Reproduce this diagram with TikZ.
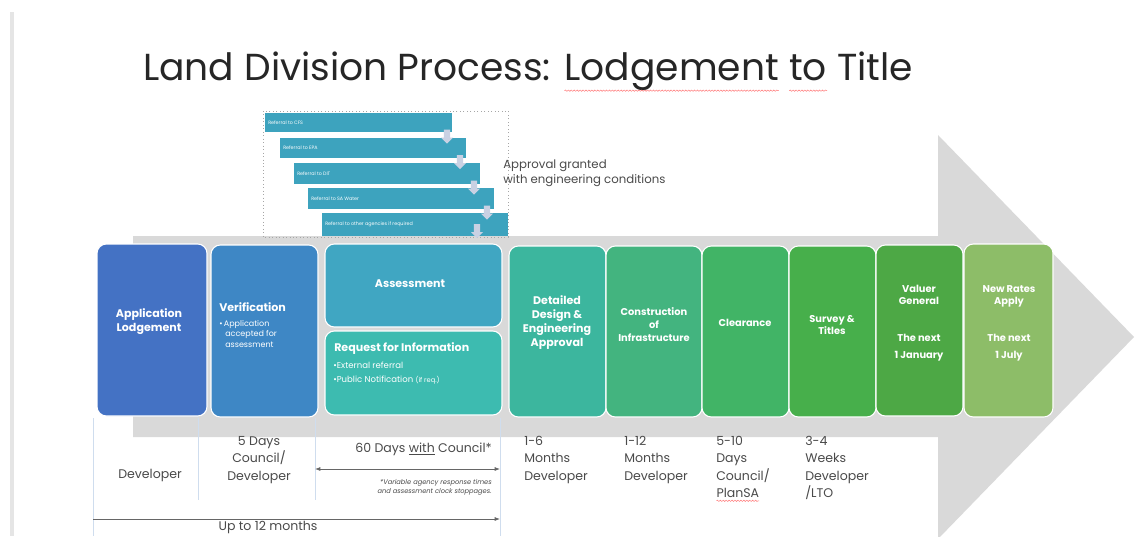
\documentclass[tikz,border=0pt]{standalone}
\usepackage{fontspec}
\setmainfont{Poppins}
\usetikzlibrary{fit,shapes.arrows,arrows.meta,decorations.pathmorphing}
% red wavy spell-check underline, drop below baseline as optional argument
\newcommand\spellwave[2][3pt]{\tikz[baseline=(sw.base),x=1cm,y=1cm]{\node[inner sep=0pt,outer sep=0pt](sw){#2};%
  \draw[red!55,line width=0.35pt,decorate,decoration={snake,amplitude=0.5pt,segment length=2.2pt}]([yshift=-#1]sw.base west)--([yshift=-#1]sw.base east);}}
\definecolor{arrowgrey}{HTML}{D9D9D9}
\definecolor{refteal}{HTML}{3DA3BE}
\definecolor{refarrow}{HTML}{C9D1E3}
\definecolor{cLodge}{HTML}{4472C4}
\definecolor{cVerif}{HTML}{3E87C5}
\definecolor{cAssess}{HTML}{40A6C2}
\definecolor{cRFI}{HTML}{3DBBB0}
\definecolor{cDesign}{HTML}{3CB69E}
\definecolor{cConstr}{HTML}{43B47F}
\definecolor{cClear}{HTML}{41B466}
\definecolor{cSurvey}{HTML}{47AF4B}
\definecolor{cValuer}{HTML}{4DA845}
\definecolor{cRates}{HTML}{8DBD68}
\definecolor{bodytext}{HTML}{4A4A4A}
\definecolor{sepblue}{HTML}{CFDDEE}
\tikzset{
  stage/.style={rounded corners=7pt, draw=white, line width=0.8pt, inner sep=0pt},
  stagetext/.style={text=white, font=\fontsize{8.3}{10.5}\selectfont\bfseries, align=center, inner sep=0pt},
  smalltext/.style={text=white, font=\fontsize{6}{7.9}\selectfont, align=left, inner sep=0pt},
  refbar/.style={fill=refteal, inner sep=0pt},
  reftext/.style={text=white, font=\fontsize{3.6}{4}\selectfont, inner sep=0pt, anchor=west},
  downarrow/.style={single arrow, shape border rotate=270, fill=refarrow, inner sep=1.6pt,
    minimum height=10.5pt, minimum width=9pt, single arrow head extend=1.6pt, single arrow tip angle=90},
  timetext/.style={text=bodytext, font=\fontsize{9.4}{13}\selectfont, inner sep=0pt},
  timeline/.style={draw=black!60, line width=0.6pt, -{Latex[length=4pt,width=3pt]}},
  sepline/.style={draw=sepblue, line width=0.6pt}
}
\begin{document}
\begin{tikzpicture}[x=0.75pt, y=-0.75pt]
\useasboundingbox (0,0) rectangle (1141,536);
\fill[white] (0,0) rectangle (1141,536);
% page margin rule
\fill[black!10] (10,12) rectangle (14,536);

% title
\node[anchor=base west, inner sep=0pt, text=black!85, font=\fontsize{28.2}{32}\selectfont] (title) at (143,80)
  {Land Division Process: \spellwave[8pt]{Lodgement} \spellwave[8pt]{to} Title};

% large process arrow
\fill[arrowgrey] (133,236) -- (938,236) -- (938,135) -- (1134,337) -- (938,539) -- (938,437) -- (133,437) -- cycle;

% referral cascade
\draw[black!35, dotted, line width=0.6pt] (263,111) rectangle (508,237);
\node[refbar, fit={(265,113) (452,132)}] (ref1) {};
\node[refbar, fit={(280,138) (466,158)}] (ref2) {};
\node[refbar, fit={(294,163) (480,184)}] (ref3) {};
\node[refbar, fit={(308,188) (494,209)}] (ref4) {};
\node[refbar, fit={(322,213) (508,236)}] (ref5) {};
\node[reftext] (ref1t) at (268,122.5) {Referral to CFS};
\node[reftext] (ref2t) at (283,148) {Referral to EPA};
\node[reftext] (ref3t) at (297,173.5) {Referral to DIT};
\node[reftext] (ref4t) at (311,198.5) {Referral to SA Water};
\node[reftext] (ref5t) at (325,224.5) {Referral to other agencies if required};
\node[downarrow] (dn1) at (447,135) {};
\node[downarrow] (dn2) at (460,160.5) {};
\node[downarrow] (dn3) at (474,186) {};
\node[downarrow] (dn4) at (487,211) {};
\node[downarrow] (dn5) at (477,229.5) {};
\node[anchor=north west, align=left, inner sep=0pt, text=bodytext, font=\fontsize{8.8}{11}\selectfont] (approval) at (503,160)
  {Approval granted\\with engineering conditions};

% process stages
\node[stage, fill=cLodge,  fit={(97,244) (207,416)}]  (lodge) {};
\node[stage, fill=cVerif,  fit={(211,245) (318,417)}] (verif) {};
\node[stage, fill=cAssess, fit={(325,244) (502,327)}] (assess) {};
\node[stage, fill=cRFI,    fit={(325,331) (502,415)}] (rfi) {};
\node[stage, fill=cDesign, fit={(509,246) (606,417)}] (design) {};
\node[stage, fill=cConstr, fit={(606,246) (702,417)}] (constr) {};
\node[stage, fill=cClear,  fit={(702,246) (789,417)}] (clear) {};
\node[stage, fill=cSurvey, fit={(789,246) (876,417)}] (survey) {};
\node[stage, fill=cValuer, fit={(876,245) (963,416)}] (valuer) {};
\node[stage, fill=cRates,  fit={(964,244) (1053,417)}] (rates) {};

\node[stagetext] (lodgeT) at (149,322) {Application\\Lodgement};
\node[stagetext, anchor=west] (verifT) at (219,307) {Verification};
\node[smalltext, anchor=north west] (verifB) at (219,320) {•\,Application\\\hspace*{4.5pt}accepted for\\\hspace*{4.5pt}assessment};
\node[stagetext] (assessT) at (410,284) {Assessment};
\node[stagetext, anchor=west] (rfiT) at (334,349) {Request for Information};
\node[smalltext, anchor=north west, font=\fontsize{6.4}{10.5}\selectfont] (rfiB) at (333,362)
  {•External referral\\•Public Notification {\fontsize{5}{6}\selectfont (if req.)}};
\node[stagetext] (designT) at (557,323) {Detailed\\Design \&\\Engineering\\Approval};
\node[stagetext, font=\fontsize{7.4}{9.8}\selectfont\bfseries] (constrT) at (654,325) {Construction\\of\\Infrastructure};
\node[stagetext, font=\fontsize{7.4}{9.8}\selectfont\bfseries] (clearT) at (745,323) {Clearance};
\node[stagetext, font=\fontsize{7.4}{9.3}\selectfont\bfseries] (surveyT) at (832,325) {Survey \&\\Titles};
\node[stagetext, font=\fontsize{7.4}{9.3}\selectfont\bfseries, anchor=north] (valuerT) at (919,285) {Valuer\\General};
\node[stagetext, font=\fontsize{7.4}{12.5}\selectfont\bfseries, anchor=north] (valuerD) at (919,334) {The next\\1 January};
\node[stagetext, font=\fontsize{7.4}{9.3}\selectfont\bfseries, anchor=north] (ratesT) at (1009,285) {New Rates\\Apply};
\node[stagetext, font=\fontsize{7.4}{12.5}\selectfont\bfseries, anchor=north] (ratesD) at (1009,334) {The next\\1 July};

% column separators
\draw[sepline] (93,418) -- (93,536);
\draw[sepline] (198,418) -- (198,500);
\draw[sepline] (315,418) -- (315,500);
\draw[sepline] (500,418) -- (500,536);

% durations and responsibilities
\node[timetext] (devT) at (150,475) {Developer};
\node[timetext, align=center, anchor=north] (fiveT) at (259,436) {5 Days\\Council/\\Developer};
\node[timetext, anchor=base east] (sixtyT) at (492,452) {60 Days \underline{with} Council*};
\coordinate (sixtyL) at (315,469);
\coordinate (sixtyR) at (500,469);
\draw[timeline, {Latex[length=4pt,width=3pt]}-{Latex[length=4pt,width=3pt]}] (sixtyL) -- (sixtyR);
\node[align=right, anchor=north east, inner sep=0pt, text=bodytext, font=\fontsize{5}{7}\selectfont\itshape] (noteT) at (492,479)
  {*Variable agency response times\\and assessment clock stoppages.};
\coordinate (uptoL) at (93,519);
\coordinate (uptoR) at (500,519);
\draw[timeline] (uptoL) -- (uptoR);
\node[timetext, anchor=base] (uptoT) at (268,530.5) {Up to 12 months};

\node[timetext, align=left, anchor=north west] (designD) at (524,436) {1-6\\Months\\Developer};
\node[timetext, align=left, anchor=north west] (constrD) at (624,436) {1-12\\Months\\Developer};
\node[timetext, align=left, anchor=north west] (clearD) at (716,436) {5-10\\Days\\Council/\\\spellwave[2.5pt]{PlanSA}};
\node[timetext, align=left, anchor=north west] (surveyD) at (805,436) {3-4\\Weeks\\Developer\\/LTO};
\end{tikzpicture}
\end{document}
